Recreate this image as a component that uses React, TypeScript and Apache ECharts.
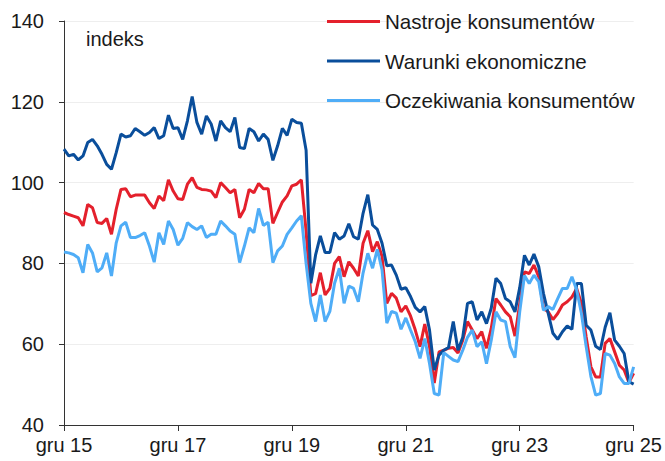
import React, { useEffect, useRef } from "react";
import * as echarts from "echarts";

const monthNames = ["sty", "lut", "mar", "kwi", "maj", "cze", "lip", "sie", "wrz", "paź", "lis", "gru"];
const startYear = 2015;
const startMonth = 11; // December (index in monthNames)
const pointCount = 121;

const nastroje = [
  92.6, 92.1, 91.7, 91.3, 89.3, 94.6, 93.8, 90.1, 89.9, 91.1, 87.2, 93.4,
  98.3, 98.5, 96.5, 96.9, 96.9, 96.9, 95.0, 93.6, 96.7, 95.5, 100.7, 97.9,
  96.0, 95.8, 99.6, 101.2, 98.8, 98.3, 98.2, 97.9, 96.3, 100.0, 98.8, 97.5,
  98.3, 91.3, 93.4, 98.3, 97.5, 99.8, 98.5, 98.5, 89.9, 92.6, 95.2, 96.7,
  99.2, 99.6, 100.7, 88.0, 72.0, 72.5, 77.7, 72.2, 73.8, 80.0, 81.7, 76.7,
  80.4, 78.8, 76.9, 85.0, 88.1, 82.9, 85.4, 81.7, 70.1, 72.6, 71.4, 68.0,
  69.5, 67.0, 63.5, 59.4, 65.0, 59.4, 50.4, 58.1, 58.5, 59.0, 59.2, 57.8,
  61.0, 65.6, 63.5, 61.4, 63.1, 59.0, 63.9, 71.3, 69.7, 68.0, 66.8, 62.0,
  70.0, 77.9, 77.5, 79.6, 76.7, 68.9, 68.0, 66.1, 67.6, 69.7, 70.5, 71.7,
  73.8, 70.1, 61.8, 54.4, 51.9, 51.9, 60.2, 61.4, 58.1, 54.8, 53.6, 50.5,
  52.8,
];

const warunki = [
  108.3, 106.6, 107.0, 105.6, 106.6, 109.9, 110.7, 109.1, 107.0, 104.5, 103.3, 107.4,
  112.0, 111.3, 111.6, 113.4, 112.6, 111.7, 112.4, 113.6, 110.9, 111.6, 116.7, 113.4,
  113.6, 110.7, 115.3, 121.3, 114.9, 112.0, 116.5, 114.5, 110.3, 115.3, 113.6, 112.6,
  116.1, 108.7, 108.4, 113.4, 112.6, 110.3, 112.0, 110.7, 105.5, 109.1, 113.4, 111.7,
  115.7, 114.9, 114.7, 108.0, 75.1, 82.1, 86.8, 82.7, 82.7, 87.6, 86.0, 86.8,
  89.8, 86.6, 86.0, 92.4, 97.0, 89.5, 88.4, 85.0, 79.4, 79.6, 77.1, 73.6,
  74.0, 71.8, 69.1, 68.0, 69.3, 63.5, 53.6, 57.3, 58.5, 59.2, 65.6, 58.5,
  61.7, 70.1, 70.5, 66.0, 68.0, 65.1, 68.9, 76.3, 75.0, 71.3, 70.5, 68.0,
  74.0, 82.0, 79.6, 82.3, 79.2, 72.6, 67.6, 62.7, 61.2, 63.1, 64.5, 63.7,
  75.0, 75.0, 64.7, 63.5, 59.5, 58.7, 64.2, 67.8, 61.0, 59.5, 57.7, 50.7,
  50.1,
];

const oczekiwania = [
  82.8, 82.6, 82.2, 81.4, 77.7, 84.7, 82.6, 77.9, 78.9, 82.6, 76.9, 85.1,
  89.3, 90.2, 86.4, 86.4, 86.9, 87.6, 84.3, 80.3, 87.6, 84.7, 90.5, 88.4,
  84.5, 86.2, 90.1, 89.1, 88.4, 89.3, 86.4, 87.2, 87.2, 90.5, 89.3, 88.0,
  87.2, 80.2, 84.3, 88.8, 87.6, 93.6, 89.4, 90.2, 80.2, 83.1, 84.3, 87.2,
  88.8, 90.5, 91.8, 80.0, 70.1, 65.6, 72.2, 65.6, 68.1, 75.1, 78.8, 70.1,
  74.4, 73.8, 70.5, 77.6, 82.5, 78.8, 83.5, 78.4, 65.2, 68.1, 67.7, 63.7,
  66.5, 63.5, 60.6, 56.5, 61.4, 55.2, 47.8, 47.4, 57.9, 57.0, 56.1, 55.7,
  58.5, 61.7, 63.5, 59.4, 60.6, 55.2, 61.0, 68.0, 66.0, 65.6, 59.4, 56.7,
  68.0, 77.0, 75.0, 77.1, 75.5, 68.4, 69.3, 68.6, 71.3, 73.8, 73.8, 76.7,
  73.4, 67.6, 59.4, 52.0, 47.4, 47.8, 57.7, 57.3, 55.2, 51.9, 50.3, 50.3,
  54.4,
];

const seriesNames = ["Nastroje konsumentów", "Warunki ekonomiczne", "Oczekiwania konsumentów"];
const seriesColors = ["#E4202C", "#0A4E9B", "#4FADF7"];

const categories: string[] = [];
for (let i = 0; i < pointCount; i++) {
  const m = (startMonth + i) % 12;
  const y = startYear + Math.floor((startMonth + i) / 12);
  categories.push(monthNames[m] + " " + String(y % 100).padStart(2, "0"));
}

const FONT = "'Liberation Sans', Arial, sans-serif";

export default function App() {
  const ref = useRef<HTMLDivElement>(null);
  useEffect(() => {
    if (!ref.current) return;
    const chart = echarts.init(ref.current, undefined, { renderer: "svg" });
    const data = [nastroje, warunki, oczekiwania];
    chart.setOption({
      animation: false,
      backgroundColor: "#ffffff",
      textStyle: { fontFamily: FONT },
      grid: { left: 64, right: 31, top: 21, bottom: 36, containLabel: false },
      legend: {
        orient: "vertical",
        left: 327,
        top: 11,
        padding: 0,
        icon: "rect",
        itemWidth: 53,
        itemHeight: 3,
        itemGap: 18.5,
        data: seriesNames,
        textStyle: { fontSize: 20.6, color: "#1a1a1a", fontFamily: FONT, lineHeight: 20 },
      },
      graphic: [
        {
          type: "text",
          left: 86,
          top: 29,
          style: { text: "indeks", fontSize: 20, fill: "#1a1a1a", fontFamily: FONT },
        },
      ],
      xAxis: {
        type: "category",
        data: categories,
        boundaryGap: false,
        axisLine: { show: true, lineStyle: { color: "#333333", width: 1 } },
        axisTick: { show: true, interval: 23, length: 6, lineStyle: { color: "#333333" } },
        axisLabel: { interval: 23, fontSize: 20, color: "#1a1a1a", margin: 10, fontFamily: FONT },
        splitLine: { show: false },
      },
      yAxis: {
        type: "value",
        min: 40,
        max: 140,
        interval: 20,
        axisLine: { show: true, lineStyle: { color: "#333333", width: 1 } },
        axisTick: { show: true, length: 5, lineStyle: { color: "#333333" } },
        axisLabel: { fontSize: 20, color: "#1a1a1a", margin: 20, fontFamily: FONT },
        splitLine: { show: true, lineStyle: { color: "#eeeeee", width: 1 } },
      },
      series: seriesNames.map((name, k) => ({
        name,
        type: "line",
        data: data[k],
        showSymbol: false,
        symbol: "none",
        color: seriesColors[k],
        lineStyle: { width: 3, color: seriesColors[k] },
        z: 2 + k,
      })),
    });
    return () => chart.dispose();
  }, []);
  return (
    <div
      ref={ref}
      style={{ position: "fixed", left: 0, top: 0, width: 665, height: 461, background: "#fff" }}
    />
  );
}
